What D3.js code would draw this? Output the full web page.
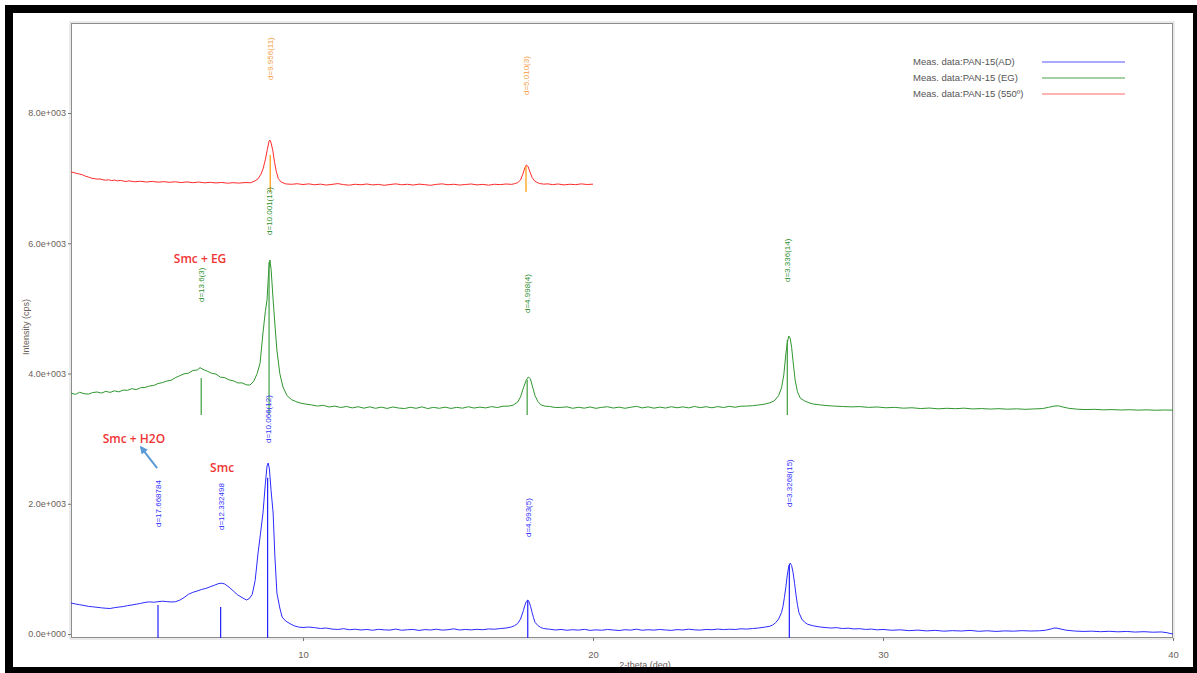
<!DOCTYPE html>
<html><head><meta charset="utf-8">
<script src="https://cdn.jsdelivr.net/npm/d3@7"></script>
<style>
html,body{margin:0;padding:0;background:#fff;}
svg{display:block;font-family:"Liberation Sans",Arial,sans-serif;}
</style></head>
<body>
<svg id="chart" width="1197" height="673"></svg>
<script>
// ---------- data ----------
const seriesNames = ["Meas. data:PAN-15(AD)", "Meas. data:PAN-15 (EG)", "Meas. data:PAN-15 (550º)"];
const xTicks = [10, 20, 30, 40];
const yTicks = [0, 2000, 4000, 6000, 8000];

const adData = [[2.0,476],[2.15,462],[2.3,450],[2.45,438],[2.6,425],[2.75,418],[2.9,410],[3.05,402],[3.2,396],[3.35,392],[3.5,405],[3.65,414],[3.8,422],[3.95,436],[4.1,446],[4.25,458],[4.4,470],[4.55,486],[4.7,494],[4.85,488],[5.0,496],[5.15,504],[5.3,498],[5.45,492],[5.6,496],[5.75,520],[5.9,560],[6.05,610],[6.2,640],[6.35,660],[6.5,684],[6.65,700],[6.8,726],[6.95,750],[7.1,776],[7.2,780],[7.3,768],[7.45,720],[7.6,660],[7.75,600],[7.9,560],[8.05,522],[8.15,545],[8.25,610],[8.35,820],[8.45,1243],[8.55,1600],[8.62,1858],[8.7,2300],[8.76,2580],[8.8,2626],[8.84,2540],[8.9,2200],[8.97,1858],[9.03,1200],[9.1,630],[9.2,400],[9.28,261],[9.4,200],[9.55,160],[9.7,125],[9.85,107],[10.0,100],[10.2,107],[10.4,98],[10.6,85],[10.8,92],[11.0,76],[11.2,70],[11.4,82],[11.6,66],[11.8,74],[12.0,62],[12.2,70],[12.4,58],[12.6,72],[12.8,64],[13.0,60],[13.2,76],[13.4,58],[13.6,66],[13.8,70],[14.0,55],[14.2,68],[14.4,62],[14.6,74],[14.8,60],[15.0,66],[15.2,80],[15.4,62],[15.6,70],[15.8,64],[16.0,72],[16.2,66],[16.4,78],[16.6,74],[16.8,84],[17.0,92],[17.2,110],[17.3,130],[17.4,160],[17.5,230],[17.6,360],[17.65,440],[17.7,500],[17.75,522],[17.8,490],[17.85,420],[17.9,330],[17.95,250],[18.0,180],[18.1,130],[18.2,100],[18.3,84],[18.5,74],[18.7,62],[18.9,70],[19.1,58],[19.3,66],[19.5,60],[19.7,72],[19.9,56],[20.1,64],[20.3,58],[20.5,70],[20.7,62],[20.9,54],[21.1,66],[21.3,60],[21.5,74],[21.7,58],[21.9,66],[22.1,60],[22.3,70],[22.5,62],[22.7,56],[22.9,68],[23.1,62],[23.3,74],[23.5,64],[23.7,60],[23.9,70],[24.1,66],[24.3,76],[24.5,68],[24.7,74],[24.9,70],[25.1,80],[25.3,76],[25.5,84],[25.7,92],[25.9,104],[26.1,120],[26.2,140],[26.3,175],[26.4,230],[26.5,330],[26.55,420],[26.6,560],[26.65,720],[26.7,906],[26.75,1040],[26.8,1090],[26.85,1050],[26.9,940],[26.95,780],[27.0,600],[27.05,450],[27.1,330],[27.2,230],[27.3,180],[27.4,150],[27.6,125],[27.8,110],[28.0,100],[28.2,92],[28.4,98],[28.6,84],[28.8,90],[29.0,78],[29.2,82],[29.4,70],[29.6,76],[29.8,64],[30.0,70],[30.3,58],[30.6,64],[30.9,52],[31.2,60],[31.5,48],[31.8,56],[32.1,44],[32.4,52],[32.7,46],[33.0,56],[33.3,42],[33.6,50],[33.9,40],[34.2,48],[34.5,44],[34.8,52],[35.1,46],[35.4,50],[35.6,58],[35.8,78],[35.9,92],[36.0,90],[36.1,80],[36.3,60],[36.6,46],[36.9,40],[37.2,44],[37.5,36],[37.8,42],[38.1,34],[38.4,40],[38.7,30],[39.0,36],[39.3,28],[39.6,32],[39.8,20],[39.9,8],[40.0,2]];

const egData = [[2.0,3701],[2.15,3680],[2.3,3712],[2.45,3690],[2.6,3684],[2.75,3708],[2.9,3716],[3.05,3700],[3.2,3726],[3.35,3710],[3.5,3734],[3.65,3718],[3.8,3746],[3.95,3742],[4.1,3768],[4.25,3752],[4.4,3782],[4.55,3786],[4.7,3808],[4.85,3816],[5.0,3846],[5.15,3860],[5.3,3884],[5.45,3896],[5.6,3936],[5.75,3966],[5.9,3996],[6.05,4004],[6.2,4046],[6.35,4054],[6.45,4090],[6.55,4064],[6.7,4036],[6.85,4004],[7.0,3992],[7.15,3944],[7.3,3936],[7.45,3902],[7.6,3888],[7.75,3856],[7.9,3856],[8.05,3826],[8.17,3823],[8.3,3880],[8.42,4000],[8.52,4161],[8.62,4622],[8.7,4950],[8.76,5129],[8.82,5600],[8.86,5743],[8.9,5600],[8.97,5129],[9.04,4700],[9.1,4361],[9.2,4000],[9.31,3793],[9.45,3660],[9.6,3600],[9.75,3570],[9.9,3547],[10.1,3530],[10.3,3518],[10.5,3500],[10.7,3512],[10.9,3486],[11.1,3500],[11.3,3478],[11.5,3494],[11.7,3472],[11.9,3490],[12.1,3468],[12.3,3488],[12.5,3466],[12.7,3484],[12.9,3464],[13.1,3486],[13.3,3470],[13.5,3462],[13.7,3482],[13.9,3466],[14.1,3488],[14.3,3462],[14.5,3480],[14.7,3466],[14.9,3484],[15.1,3464],[15.3,3480],[15.5,3468],[15.7,3490],[15.9,3470],[16.1,3484],[16.3,3472],[16.5,3492],[16.7,3478],[16.9,3498],[17.1,3500],[17.25,3516],[17.4,3560],[17.5,3640],[17.6,3780],[17.7,3900],[17.77,3946],[17.84,3920],[17.92,3790],[18.0,3660],[18.1,3570],[18.2,3520],[18.35,3498],[18.5,3494],[18.7,3478],[18.9,3480],[19.1,3488],[19.3,3466],[19.5,3482],[19.7,3468],[19.9,3486],[20.1,3466],[20.3,3480],[20.5,3490],[20.7,3470],[20.9,3484],[21.1,3466],[21.3,3482],[21.5,3496],[21.7,3472],[21.9,3488],[22.1,3468],[22.3,3484],[22.5,3470],[22.7,3490],[22.9,3474],[23.1,3488],[23.3,3472],[23.5,3494],[23.7,3476],[23.9,3490],[24.1,3474],[24.3,3492],[24.5,3478],[24.7,3496],[24.9,3482],[25.1,3498],[25.3,3500],[25.5,3506],[25.7,3516],[25.9,3528],[26.1,3550],[26.25,3580],[26.4,3660],[26.5,3780],[26.58,3980],[26.65,4300],[26.7,4470],[26.75,4576],[26.8,4540],[26.85,4400],[26.9,4180],[26.97,3900],[27.05,3720],[27.15,3620],[27.3,3578],[27.45,3550],[27.6,3531],[27.8,3520],[28.0,3510],[28.3,3500],[28.6,3494],[28.9,3488],[29.2,3492],[29.5,3480],[29.8,3486],[30.1,3474],[30.4,3480],[30.7,3468],[31.0,3474],[31.3,3462],[31.6,3470],[31.9,3458],[32.2,3466],[32.5,3460],[32.8,3468],[33.1,3456],[33.4,3462],[33.7,3454],[34.0,3460],[34.3,3452],[34.6,3458],[34.9,3450],[35.2,3456],[35.5,3462],[35.7,3480],[35.9,3500],[36.05,3504],[36.2,3486],[36.4,3466],[36.7,3452],[37.0,3446],[37.3,3450],[37.6,3442],[37.9,3446],[38.2,3440],[38.5,3444],[38.8,3438],[39.1,3442],[39.4,3436],[39.7,3440],[40.0,3438]];

const heatedData = [[2.0,7094],[2.1,7085],[2.2,7070],[2.3,7063],[2.4,7050],[2.5,7030],[2.6,7017],[2.7,7000],[2.8,6992],[2.9,6985],[3.0,6987],[3.1,6975],[3.2,6968],[3.3,6975],[3.4,6962],[3.5,6970],[3.6,6958],[3.7,6965],[3.8,6956],[3.9,6948],[4.0,6958],[4.2,6944],[4.4,6952],[4.6,6940],[4.8,6950],[5.0,6938],[5.2,6946],[5.4,6936],[5.6,6944],[5.8,6932],[6.0,6942],[6.2,6930],[6.4,6940],[6.6,6928],[6.8,6936],[7.0,6926],[7.2,6934],[7.4,6922],[7.6,6930],[7.8,6924],[8.0,6932],[8.2,6930],[8.35,6960],[8.45,6990],[8.55,7060],[8.62,7140],[8.7,7280],[8.77,7440],[8.83,7570],[8.86,7585],[8.9,7540],[8.96,7420],[9.02,7240],[9.08,7100],[9.15,6990],[9.25,6940],[9.4,6912],[9.6,6905],[9.8,6914],[10.0,6902],[10.2,6912],[10.4,6898],[10.6,6908],[10.8,6894],[11.0,6904],[11.2,6916],[11.4,6900],[11.6,6892],[11.8,6906],[12.0,6898],[12.2,6910],[12.4,6896],[12.6,6904],[12.8,6890],[13.0,6902],[13.2,6912],[13.4,6898],[13.6,6906],[13.8,6894],[14.0,6908],[14.2,6900],[14.4,6890],[14.6,6904],[14.8,6912],[15.0,6898],[15.2,6906],[15.4,6894],[15.6,6902],[15.8,6910],[16.0,6896],[16.2,6904],[16.4,6892],[16.6,6906],[16.8,6900],[17.0,6910],[17.2,6904],[17.3,6916],[17.4,6930],[17.5,6970],[17.58,7060],[17.65,7160],[17.7,7201],[17.76,7180],[17.83,7090],[17.9,7010],[18.0,6950],[18.15,6918],[18.3,6908],[18.45,6912],[18.6,6900],[18.8,6910],[19.0,6896],[19.2,6906],[19.4,6900],[19.6,6912],[19.8,6902],[20.0,6908]];

// peak markers: 2-theta, stick top (cps), stick base (cps), label, label start (cps)
const adPeakTheta = [5.0, 7.16, 8.78, 17.75, 26.77];
const adPeakTop = [445, 415, 2400, 522, 1060];
const adPeakLabels = ["d=17.668784", "d=12.332498", "d=10.066(12)", "d=4.993(5)", "d=3.3268(15)"];
const adLabelAt = [1643, 1597, 2933, 1489, 1950];
const adBase = -61;

const egPeakTheta = [6.49, 8.83, 17.73, 26.70];
const egPeakTop = [3931, 5712, 3900, 4514];
const egPeakLabels = ["d=13.6(3)", "d=10.001(13)", "d=4.998(4)", "d=3.336(14)"];
const egLabelAt = [5098, 6127, 4929, 5405];
const egBase = 3363;

const heatedPeakTheta = [8.87, 17.69];
const heatedPeakTop = [7355, 7186];
const heatedPeakLabels = ["d=9.956(11)", "d=5.010(3)"];
const heatedLabelAt = [8507, 8276];
const heatedBase = 6787;

// annotations (2-theta, cps)
const noteTexts = ["Smc + EG", "Smc + H2O", "Smc"];
const noteTheta = [6.45, 4.17, 7.21];
const noteCps = [5697, 2933, 2488];
const arrowFrom = [4.97, 2549];
const arrowTo = [4.41, 2871];

// ---------- drawing ----------
const svg = d3.select("#chart");
const W = 1197, H = 673;
const L = 71, R = 1173, T = 23, B = 638;

const x = d3.scaleLinear().domain([2, 40]).range([L, R]);
const y = d3.scaleLinear().domain([-61, 9382]).range([B, T]);

svg.append("rect").attr("width", W).attr("height", H).attr("fill", "#fff");

// plot frame (with light shadow)
svg.append("rect").attr("x", L - 1).attr("y", T - 1).attr("width", R - L + 2).attr("height", B - T + 2)
  .attr("fill", "none").attr("stroke", "#d6d6d6").attr("stroke-width", 1);
svg.append("rect").attr("x", L + 0.5).attr("y", T + 0.5).attr("width", R - L - 1).attr("height", B - T - 1)
  .attr("fill", "none").attr("stroke", "#8c8c8c").attr("stroke-width", 1);

// axes
const fmt = d => d === 0 ? "0.0e+000" : (d / 1000).toFixed(1) + "e+003";
const yAxis = svg.append("g").attr("transform", `translate(${L},0)`)
  .call(d3.axisLeft(y).tickValues(yTicks).tickFormat(fmt).tickSize(3).tickPadding(2));
yAxis.select(".domain").remove();
yAxis.selectAll("line").attr("stroke", "#777");
yAxis.selectAll("text").attr("fill", "#6b6058").style("font-size", "9px").style("font-family", "Liberation Sans, Arial, sans-serif");

const xAxis = svg.append("g").attr("transform", `translate(0,${B})`)
  .call(d3.axisBottom(x).tickValues(xTicks).tickFormat(d3.format("d")).tickSize(3).tickPadding(10));
xAxis.select(".domain").remove();
xAxis.selectAll("line").attr("stroke", "#777");
xAxis.selectAll("text").attr("fill", "#6b6058").style("font-size", "9.5px").style("font-family", "Liberation Sans Narrow, Liberation Sans, Arial, sans-serif");

svg.append("text").attr("x", (L + R) / 2 + 23).attr("y", 668).attr("text-anchor", "middle")
  .attr("fill", "#6b6058").style("font-size", "9px").style("font-family", "Liberation Sans Narrow, Liberation Sans, Arial, sans-serif")
  .text("2-theta (deg)");
svg.append("text").attr("transform", "translate(29,327) rotate(-90)").attr("text-anchor", "middle")
  .attr("fill", "#6b6058").style("font-size", "9px").text("Intensity (cps)");

// curves
const line = d3.line().x(d => x(d[0])).y(d => y(d[1]));
const series = [
  {data: adData, color: "#2b2bff"},
  {data: egData, color: "#2f962f"},
  {data: heatedData, color: "#ff2a2a"}
];
series.forEach(s => {
  svg.append("path").datum(s.data).attr("d", line).attr("fill", "none")
    .attr("stroke", s.color).attr("stroke-width", 1).attr("stroke-linejoin", "round");
});

// peak sticks and labels
function peaks(theta, top, base, labels, labAt, stickColor, textColor) {
  const g = svg.append("g");
  theta.forEach((t, i) => {
    g.append("line").attr("x1", x(t)).attr("x2", x(t)).attr("y1", y(base)).attr("y2", y(top[i]))
      .attr("stroke", stickColor).attr("stroke-width", 1.2);
    g.append("text").attr("transform", `translate(${x(t) + 3},${y(labAt[i])}) rotate(-90)`)
      .attr("text-anchor", "start").attr("fill", textColor)
      .style("font-size", "8px").style("font-family", "Liberation Sans Narrow, Liberation Sans, Arial, sans-serif")
      .text(labels[i]);
  });
}
peaks(heatedPeakTheta, heatedPeakTop, heatedBase, heatedPeakLabels, heatedLabelAt, "#ff9900", "#f5a044");
peaks(egPeakTheta, egPeakTop, egBase, egPeakLabels, egLabelAt, "#3f9f3f", "#2f8f2f");
peaks(adPeakTheta, adPeakTop, adBase, adPeakLabels, adLabelAt, "#2020ff", "#3030ff");

// red annotations
noteTexts.forEach((t, i) => {
  svg.append("text").attr("x", x(noteTheta[i])).attr("y", y(noteCps[i])).attr("text-anchor", "middle")
    .attr("fill", "#f03434").style("font-size", "12px").style("font-weight", "600")
    .style("font-family", "Open Sans, Liberation Sans, sans-serif")
    .text(t);
});
svg.append("defs").append("marker").attr("id", "ah").attr("viewBox", "0 0 10 10")
  .attr("refX", 8).attr("refY", 5).attr("markerWidth", 4).attr("markerHeight", 4).attr("orient", "auto")
  .append("path").attr("d", "M0,0 L10,5 L0,10 z").attr("fill", "#5b9bd5");
svg.append("line").attr("x1", x(arrowFrom[0])).attr("y1", y(arrowFrom[1]))
  .attr("x2", x(arrowTo[0])).attr("y2", y(arrowTo[1]))
  .attr("stroke", "#5b9bd5").attr("stroke-width", 2).attr("marker-end", "url(#ah)");

// legend
const legColors = ["#8c8cff", "#84c284", "#ff9a9a"];
seriesNames.forEach((n, i) => {
  const yy = 62 + i * 16;
  svg.append("text").attr("x", 913).attr("y", yy + 3).attr("fill", "#555")
    .style("font-size", "9.5px").text(n);
  svg.append("line").attr("x1", 1042).attr("x2", 1125).attr("y1", yy).attr("y2", yy)
    .attr("stroke", legColors[i]).attr("stroke-width", 1.5);
});

// outer black frame
svg.append("path").attr("fill-rule", "evenodd").attr("fill", "#000")
  .attr("d", `M5,5 H${W} V${H} H5 Z M13,13 V667 H1193 V13 Z`);
</script>
</body></html>
